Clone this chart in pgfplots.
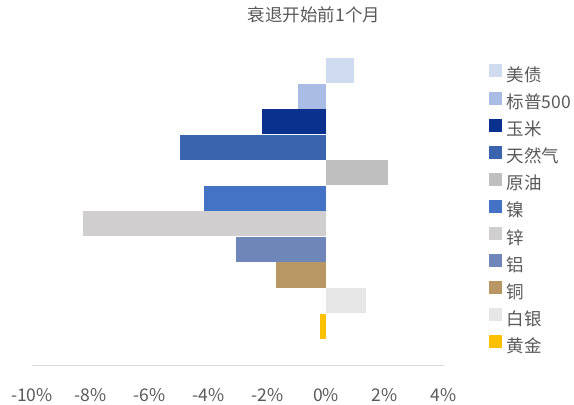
\documentclass[border=0pt]{standalone}
\usepackage{pgfplots}
\pgfplotsset{compat=1.18}
\usepackage{fontspec}
\setmainfont{Noto Sans CJK SC}
\definecolor{cMeizhai}{HTML}{CFDCF0}
\definecolor{cBiaopu}{HTML}{A9BCE4}
\definecolor{cYumi}{HTML}{0B318F}
\definecolor{cTianran}{HTML}{3A64AE}
\definecolor{cYuanyou}{HTML}{BFBFBF}
\definecolor{cNie}{HTML}{4472C4}
\definecolor{cXin}{HTML}{D0CECE}
\definecolor{cLv}{HTML}{6F86B8}
\definecolor{cTong}{HTML}{B99764}
\definecolor{cBaiyin}{HTML}{E7E6E6}
\definecolor{cHuangjin}{HTML}{FFC000}
\definecolor{txt}{HTML}{595959}
\definecolor{axl}{HTML}{D9D9D9}
\pgfplotsset{mybar/.style={xbar, bar width=0.98, bar shift=0pt, draw=none}}
\newcommand\legsq[1]{\fill[#1] (0pt,-0.5pt) rectangle (13pt,12.5pt);}
\newcommand\fs{\fontsize{17.5}{20}\selectfont}
\begin{document}
\begin{tikzpicture}
\useasboundingbox (0,0) rectangle (574pt,405pt);
\begin{axis}[
  at={(32pt,39.3pt)}, anchor=south west,
  scale only axis, width=411.7pt, height=334.7pt,
  xmin=-10, xmax=4, ymin=-0.55, ymax=12.55,
  axis x line*=bottom, axis y line=none,
  x axis line style={color=axl, line width=1.2pt},
  xtick={-10,-8,-6,-4,-2,0,2,4},
  xticklabels={-10\%,-8\%,-6\%,-4\%,-2\%,0\%,2\%,4\%},
  ytick=\empty,
  major tick length=0pt,
  xticklabel style={font=\fs, text=txt, inner sep=0pt, text height=12.5pt, anchor=north, yshift=-23pt},
  title={衰退开始前1个月},
  title style={at={(0.685,1.03)}, anchor=center, font=\fs, text=txt},
  legend style={at={(1.110,0.900)}, anchor=north west, draw=none, fill=none,
    inner sep=0pt, outer sep=0pt, font=\fs, text=txt,
    row sep=6.1pt, column sep=5pt,
    nodes={inner sep=0pt, text height=13pt, text depth=4pt}},
  legend cell align=left,
]
\addplot[mybar, fill=cMeizhai, legend image code/.code={\legsq{cMeizhai}}] coordinates {(0.94,11)};
\addlegendentry{美债}
\addplot[mybar, fill=cBiaopu, legend image code/.code={\legsq{cBiaopu}}] coordinates {(-0.94,10)};
\addlegendentry{标普500}
\addplot[mybar, fill=cYumi, legend image code/.code={\legsq{cYumi}}] coordinates {(-2.18,9)};
\addlegendentry{玉米}
\addplot[mybar, fill=cTianran, legend image code/.code={\legsq{cTianran}}] coordinates {(-4.97,8)};
\addlegendentry{天然气}
\addplot[mybar, fill=cYuanyou, legend image code/.code={\legsq{cYuanyou}}] coordinates {(2.12,7)};
\addlegendentry{原油}
\addplot[mybar, fill=cNie, legend image code/.code={\legsq{cNie}}] coordinates {(-4.15,6)};
\addlegendentry{镍}
\addplot[mybar, fill=cXin, legend image code/.code={\legsq{cXin}}] coordinates {(-8.26,5)};
\addlegendentry{锌}
\addplot[mybar, fill=cLv, legend image code/.code={\legsq{cLv}}] coordinates {(-3.05,4)};
\addlegendentry{铝}
\addplot[mybar, fill=cTong, legend image code/.code={\legsq{cTong}}] coordinates {(-1.70,3)};
\addlegendentry{铜}
\addplot[mybar, fill=cBaiyin, legend image code/.code={\legsq{cBaiyin}}] coordinates {(1.35,2)};
\addlegendentry{白银}
\addplot[mybar, fill=cHuangjin, legend image code/.code={\legsq{cHuangjin}}] coordinates {(-0.20,1)};
\addlegendentry{黄金}
\end{axis}
\end{tikzpicture}
\end{document}
